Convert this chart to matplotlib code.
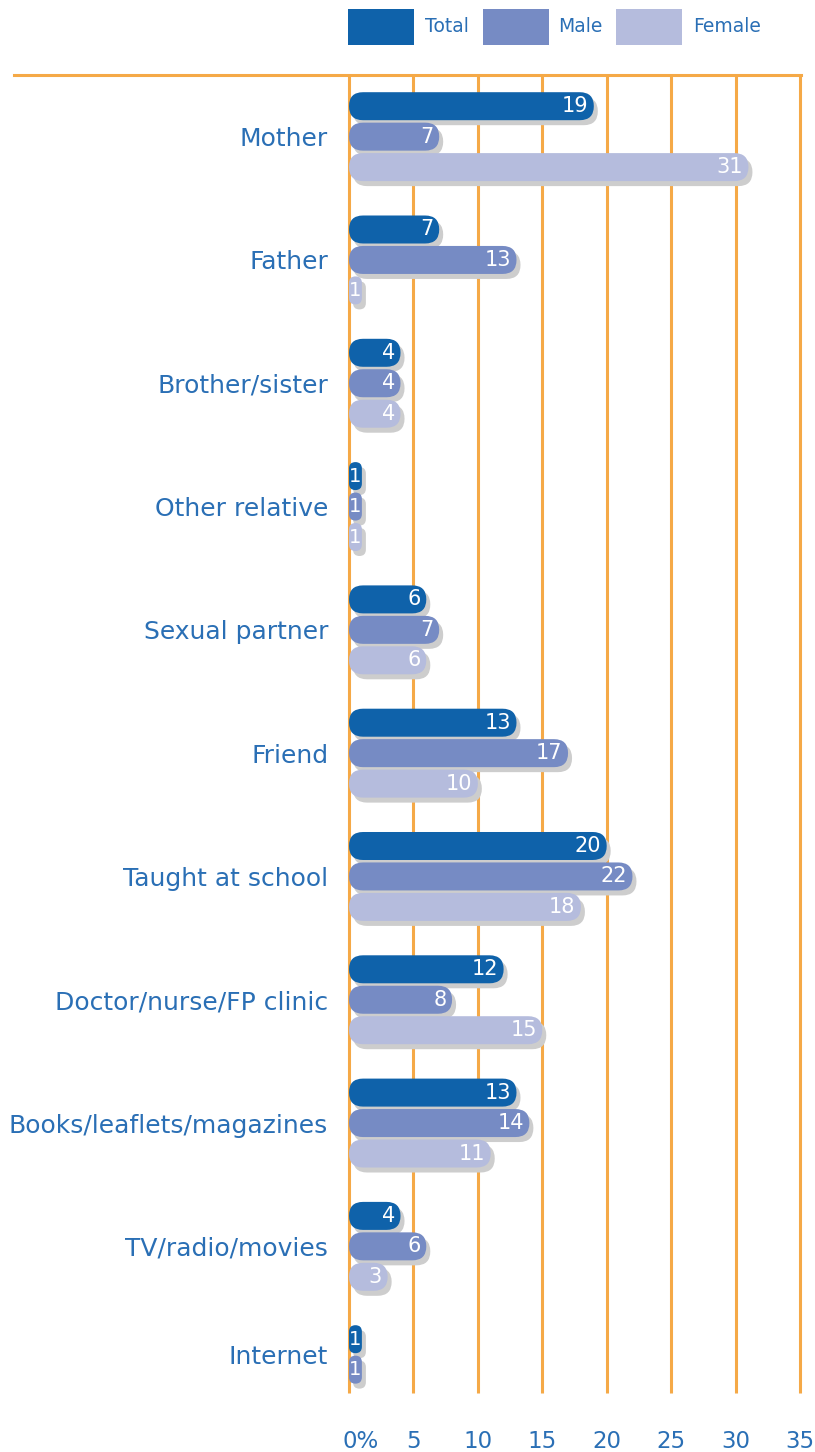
import matplotlib
matplotlib.use('Agg')
import matplotlib.pyplot as plt
from matplotlib.patches import FancyBboxPatch, Rectangle
from matplotlib.lines import Line2D
from matplotlib.transforms import IdentityTransform, ScaledTranslation

# Dados
categorias = ['Mother', 'Father', 'Brother/sister', 'Other relative', 'Sexual partner',
              'Friend', 'Taught at school', 'Doctor/nurse/FP clinic',
              'Books/leaflets/magazines', 'TV/radio/movies', 'Internet']
total = [19, 7, 4, 1, 6, 13, 20, 12, 13, 4, 1]
male = [7, 13, 4, 1, 7, 17, 22, 8, 14, 6, 1]
female = [31, 1, 4, 1, 6, 10, 18, 15, 11, 3, None]
series_nomes = ['Total', 'Male', 'Female']
cores = ['#0f62aa', '#768bc4', '#b5bcdd']
xticks = [0, 5, 10, 15, 20, 25, 30, 35]
xtick_labels = ['0%', '5', '10', '15', '20', '25', '30', '35']

laranja = '#f5a947'
azul_texto = '#2a6fb5'
sombra = '#cdcdcd'

W, H = 815, 1452
fig = plt.figure(figsize=(W / 100, H / 100), dpi=100)
ax = fig.add_axes([349 / W, (H - 1393) / H, (800 - 349) / W, (1393 - 75) / H])

y_max = (1393 - 75) / 123.3
ax.set_xlim(0, 35)
ax.set_ylim(y_max, 0)
for s in ax.spines.values():
    s.set_visible(False)

# linhas de grade laranja
ax.vlines(xticks, 0, y_max, color=laranja, lw=2.2, zorder=1, clip_on=False)
fig.add_artist(Line2D([14 / W, 801 / W], [1 - 75 / H] * 2, color=laranja, lw=2.2))

# eixos
ax.set_xticks(xticks, xtick_labels)
ax.tick_params(axis='x', length=0, pad=27, labelsize=16.5, labelcolor=azul_texto)
lbl0 = ax.get_xticklabels()[0]
lbl0.set_horizontalalignment('left')
lbl0.set_transform(lbl0.get_transform() + ScaledTranslation(-7 / 100, 0, fig.dpi_scale_trans))

centros = []
for i in range(len(categorias)):
    c = i + 0.5
    if female[i] is None:
        c -= 0.247 / 2
    centros.append(c)
ax.set_yticks(centros, categorias)
ax.tick_params(axis='y', length=0, pad=15, labelsize=18, labelcolor=azul_texto)

altura = 28 / 123.3
passo = 0.247


def pilula(x0, x1, yc, h, cor, dx=0, dy=0, z=3):
    px0, py0 = ax.transData.transform((x0, yc + h / 2))
    px1, py1 = ax.transData.transform((x1, yc - h / 2))
    w = px1 - px0
    hh = py1 - py0
    r = min(w, hh) / 2
    p = FancyBboxPatch((px0 + dx, py0 + dy), w, hh,
                       boxstyle=f"round,pad=0,rounding_size={r}",
                       transform=IdentityTransform(), facecolor=cor,
                       edgecolor='none', zorder=z)
    ax.add_patch(p)


for j, (vals, cor) in enumerate(zip([total, male, female], cores)):
    for i, v in enumerate(vals):
        if v is None:
            continue
        yc = i + 0.5 + (j - 1) * passo
        pilula(0, v, yc, altura, sombra, dx=4, dy=-5, z=2)
        pilula(0, v, yc, altura, cor, z=3)
        if v < 2:
            ax.text(v / 2, yc, str(v), ha='center', va='center', color='white',
                    fontsize=14, zorder=5)
        else:
            ax.annotate(str(v), xy=(v, yc), xytext=(-4, 0), textcoords='offset points',
                        ha='right', va='center', color='white', fontsize=15, zorder=5)

# legenda
for nome, cor, xb, xt in zip(series_nomes, cores, [348, 483, 616], [425, 558, 693]):
    fig.add_artist(Rectangle((xb / W, 1 - 45 / H), 66 / W, 36 / H,
                             transform=fig.transFigure, facecolor=cor, edgecolor='none'))
    fig.text(xt / W, 1 - 27 / H, nome, ha='left', va='center', fontsize=13.5, color=azul_texto)

fig.savefig('out.png', dpi=100)
